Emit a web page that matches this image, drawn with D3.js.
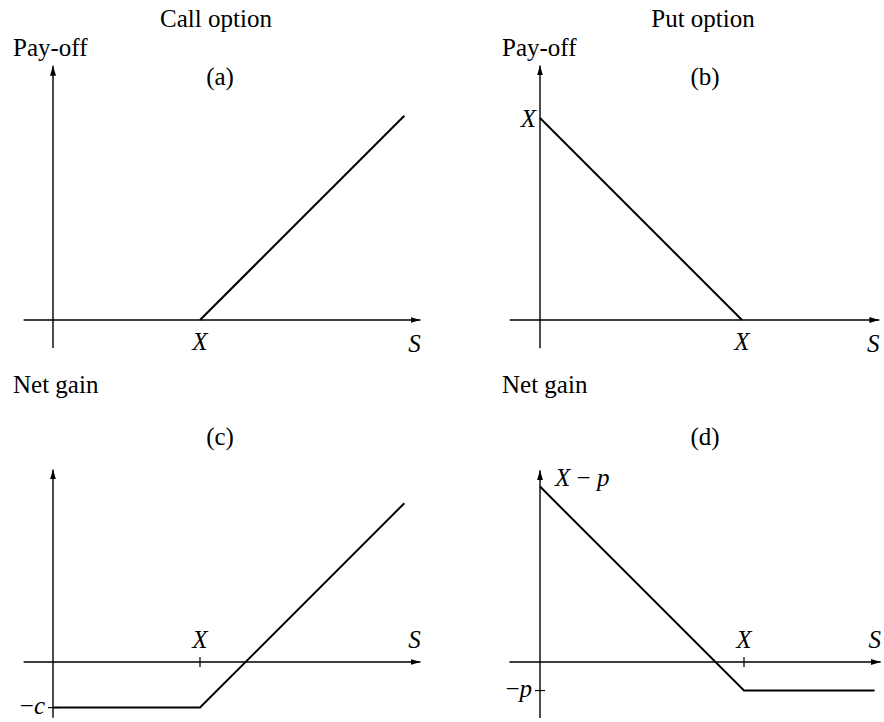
<!DOCTYPE html>
<html>
<head>
<meta charset="utf-8">
<script src="https://cdn.jsdelivr.net/npm/d3@7"></script>
</head>
<body style="margin:0; background:#fff">
<div id="chart"></div>
<script>
// strike price X = 100, premiums c and p in the same units
var strike = 100;
var callPayoff = [[100, 0], [239, 139]];
var putPayoff = [[0, 100], [100, 0]];
var callGain = [[0, -31], [100, -31], [239, 108]];
var putGain = [[0, 86], [100, -14], [164, -14]];

var panels = [
	{ id: "(a)", yTitle: "Pay-off", data: callPayoff, ox: 53, oy: 320, k: 1.47, xExt: [-20, 250], yExt: [-19, 173] },
	{ id: "(b)", yTitle: "Pay-off", data: putPayoff, ox: 540, oy: 320, k: 2.02, xExt: [-15, 168], yExt: [-14, 126] },
	{ id: "(c)", yTitle: "Net gain", data: callGain, ox: 53, oy: 662, k: 1.47, xExt: [-20, 250], yExt: [-38, 131] },
	{ id: "(d)", yTitle: "Net gain", data: putGain, ox: 540, oy: 662, k: 2.04, xExt: [-15, 167], yExt: [-27.5, 94] }
];

var fontSize = 25;

function label(sel, x, y, str, italic, anchor) {
	return sel.append("text")
		.attr("x", x).attr("y", y)
		.attr("text-anchor", anchor || "start")
		.style("font-family", "'Liberation Serif'")
		.style("font-size", fontSize + "px")
		.style("font-style", italic ? "italic" : "normal")
		.attr("fill", "#000")
		.text(str);
}

function span(t, str, italic) {
	t.append("tspan")
		.style("font-style", italic ? "italic" : "normal")
		.text(str);
}

function init() {
	var w = 884, h = 722;

	var svg = d3.select("#chart")
		.append("svg")
		.attr("width", w)
		.attr("height", h);

	svg.append("defs").append("marker")
		.attr("id", "arrow")
		.attr("viewBox", "0 0 10 6")
		.attr("refX", 10)
		.attr("refY", 3)
		.attr("markerWidth", 10)
		.attr("markerHeight", 6)
		.attr("markerUnits", "userSpaceOnUse")
		.attr("orient", "auto")
		.append("path")
		.attr("d", "M0,0 L10,3 L0,6 Z")
		.attr("fill", "#000");

	label(svg, 216, 27, "Call option", false, "middle");
	label(svg, 703, 27, "Put option", false, "middle");

	panels.forEach(function(p, i) {
		var x = d3.scaleLinear().domain([0, strike]).range([p.ox, p.ox + p.k * strike]);
		var y = d3.scaleLinear().domain([0, strike]).range([p.oy, p.oy - p.k * strike]);
		var g = svg.append("g");

		// axes
		g.append("line")
			.attr("x1", x(p.xExt[0])).attr("x2", x(p.xExt[1]))
			.attr("y1", y(0)).attr("y2", y(0))
			.attr("stroke", "#000").attr("stroke-width", 1.4)
			.attr("marker-end", "url(#arrow)");
		g.append("line")
			.attr("x1", x(0)).attr("x2", x(0))
			.attr("y1", y(p.yExt[0])).attr("y2", y(p.yExt[1]))
			.attr("stroke", "#000").attr("stroke-width", 1.4)
			.attr("marker-end", "url(#arrow)");

		// pay-off / gain line
		g.append("path")
			.datum(p.data)
			.attr("d", d3.line().x(d => x(d[0])).y(d => y(d[1])))
			.attr("fill", "none")
			.attr("stroke", "#000")
			.attr("stroke-width", 2);

		label(g, i % 2 == 0 ? 13 : 502, i < 2 ? 56 : 393, p.yTitle);
		label(g, i % 2 == 0 ? 220 : 705, i < 2 ? 85 : 445, p.id, false, "middle");

		// S label at end of horizontal axis
		label(g, x(p.xExt[1]) - 6, i < 2 ? y(0) + 32 : y(0) - 14, "S", true, "middle");
	});

	var pa = panels[0], pb = panels[1], pc = panels[2], pd = panels[3];
	function sx(p, v) { return p.ox + p.k * v; }
	function sy(p, v) { return p.oy - p.k * v; }

	// strike labels under axis in (a) and (b), pay-off X on the axis in (b)
	label(svg, sx(pa, strike), sy(pa, 0) + 30, "X", true, "middle");
	label(svg, sx(pb, strike), sy(pb, 0) + 30, "X", true, "middle");
	label(svg, sx(pb, 0) - 4, sy(pb, putPayoff[0][1]) + 9, "X", true, "end");

	// ticks at X in (c) and (d)
	[pc, pd].forEach(function(p) {
		svg.append("line")
			.attr("x1", sx(p, strike)).attr("x2", sx(p, strike))
			.attr("y1", sy(p, 0) - 5).attr("y2", sy(p, 0) + 5)
			.attr("stroke", "#000").attr("stroke-width", 1.2);
		label(svg, sx(p, strike), sy(p, 0) - 14, "X", true, "middle");
	});
	svg.append("line")
		.attr("x1", sx(pc, 0) - 5).attr("x2", sx(pc, 0) + 5)
		.attr("y1", sy(pc, callGain[0][1])).attr("y2", sy(pc, callGain[0][1]))
		.attr("stroke", "#000").attr("stroke-width", 1.2);
	svg.append("line")
		.attr("x1", sx(pd, 0) - 5).attr("x2", sx(pd, 0) + 5)
		.attr("y1", sy(pd, putGain[1][1])).attr("y2", sy(pd, putGain[1][1]))
		.attr("stroke", "#000").attr("stroke-width", 1.2);

	var mc = label(svg, sx(pc, 0) - 8, sy(pc, callGain[0][1]) + 6, "", false, "end");
	span(mc, "\u2212", false);
	span(mc, "c", true);

	var mp = label(svg, sx(pd, 0) - 8, sy(pd, putGain[1][1]) + 6, "", false, "end");
	span(mp, "\u2212", false);
	span(mp, "p", true);

	var xp = label(svg, sx(pd, 0) + 15, sy(pd, putGain[0][1]) - 1, "", false);
	span(xp, "X", true);
	span(xp, " \u2212 ", false);
	span(xp, "p", true);
}

window.onload = init;
</script>
</body>
</html>
